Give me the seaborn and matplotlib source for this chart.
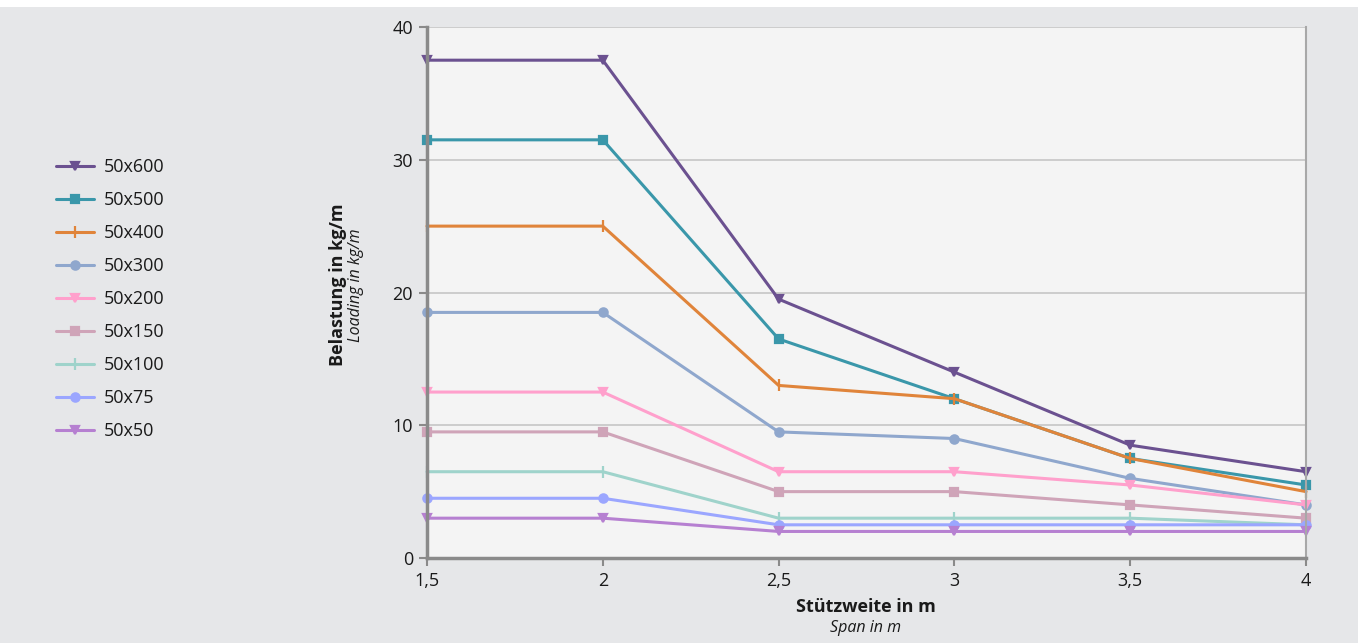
import pandas as pd
import seaborn as sns
import matplotlib.pyplot as plt
from matplotlib.patches import Rectangle

# Stützweite in m
spans = [1.5, 2.0, 2.5, 3.0, 3.5, 4.0]
span_labels = ["1,5", "2", "2,5", "3", "3,5", "4"]

profiles = ["50x600", "50x500", "50x400", "50x300", "50x200",
            "50x150", "50x100", "50x75", "50x50"]

load_50x600 = [37.5, 37.5, 19.5, 14.0, 8.5, 6.5]
load_50x500 = [31.5, 31.5, 16.5, 12.0, 7.5, 5.5]
load_50x400 = [25.0, 25.0, 13.0, 12.0, 7.5, 5.0]
load_50x300 = [18.5, 18.5, 9.5, 9.0, 6.0, 4.0]
load_50x200 = [12.5, 12.5, 6.5, 6.5, 5.5, 4.0]
load_50x150 = [9.5, 9.5, 5.0, 5.0, 4.0, 3.0]
load_50x100 = [6.5, 6.5, 3.0, 3.0, 3.0, 2.5]
load_50x75 = [4.5, 4.5, 2.5, 2.5, 2.5, 2.5]
load_50x50 = [3.0, 3.0, 2.0, 2.0, 2.0, 2.0]

loads = [load_50x600, load_50x500, load_50x400, load_50x300, load_50x200,
         load_50x150, load_50x100, load_50x75, load_50x50]

colors = ["#6b5190", "#3a97aa", "#e0843a", "#8fa7cd", "#ffa0cc",
          "#cfa4b8", "#9fd3cb", "#9ba6ff", "#b680d1"]
marker_list = ["v", "s", "|", "o", "v", "s", "|", "o", "v"]

sns.set_theme(style="white")
plt.rcParams["font.family"] = ["Open Sans", "DejaVu Sans"]

fig = plt.figure(figsize=(13.58, 6.43), dpi=100, facecolor="#e6e7e9")
fig.patches.append(Rectangle((0, 1 - 7 / 643), 1, 7 / 643, transform=fig.transFigure,
                             facecolor="white", edgecolor="none", zorder=0))
ax = fig.add_axes([427 / 1358, 85 / 643, 879 / 1358, 531 / 643])
ax.set_facecolor("#f4f4f4")

for name, vals, col, mk in zip(profiles, loads, colors, marker_list):
    d = pd.DataFrame({"span": spans, "load": vals})
    sns.lineplot(data=d, x="span", y="load", color=col, marker=mk,
                 markersize=6 if mk != "|" else 9, markeredgewidth=1.6,
                 markeredgecolor=col, linewidth=2.2, label=name, ax=ax,
                 clip_on=False)

ax.set_xlim(1.5, 4)
ax.set_ylim(0, 40)
ax.set_xticks(spans)
ax.set_xticklabels(span_labels)
ax.set_yticks([0, 10, 20, 30, 40])
ax.yaxis.grid(True, color="#c6c6c6", linewidth=1.2)
ax.set_axisbelow(True)

for side in ["left", "bottom"]:
    ax.spines[side].set_color("#8a8a8a")
    ax.spines[side].set_linewidth(2.5)
ax.spines["right"].set_color("#a8a8a8")
ax.spines["right"].set_linewidth(1.5)
ax.spines["top"].set_visible(False)
ax.tick_params(axis="both", direction="out", length=6, width=1.5, color="#8a8a8a",
               labelsize=13, labelcolor="#1a1a1a", pad=4, bottom=True, left=True)

ax.set_xlabel("")
ax.set_ylabel("")
fig.text(338 / 1358, 1 - 285 / 643, "Belastung in kg/m", rotation=90, ha="center",
         va="center", fontsize=13, fontweight="bold", color="#1a1a1a")
fig.text(356 / 1358, 1 - 285 / 643, "Loading in kg/m", rotation=90, ha="center",
         va="center", fontsize=11.5, fontstyle="italic", color="#1a1a1a")
fig.text(866 / 1358, 1 - 607 / 643, "Stützweite in m", ha="center", va="center",
         fontsize=13, fontweight="bold", color="#1a1a1a")
fig.text(866 / 1358, 1 - 628 / 643, "Span in m", ha="center", va="center",
         fontsize=11.5, fontstyle="italic", color="#1a1a1a")

handles, labels = ax.get_legend_handles_labels()
ax.legend_.remove()
fig.legend(handles, labels, loc="upper left", bbox_to_anchor=(40 / 1358, 1 - 142 / 643),
           frameon=False, fontsize=13, handlelength=2.1, handletextpad=0.55,
           labelspacing=0.83, labelcolor="#1a1a1a")

fig.savefig("out.png", dpi=100, facecolor=fig.get_facecolor())
